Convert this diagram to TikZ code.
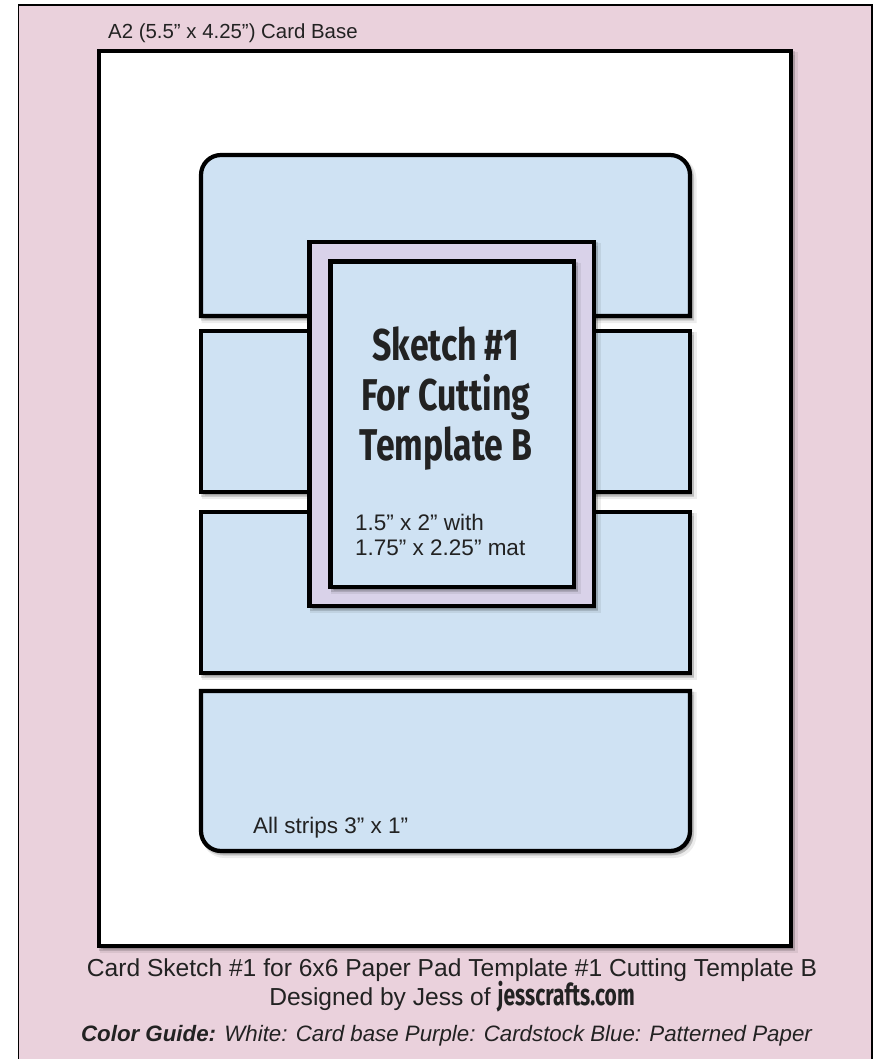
\documentclass[tikz,border=0pt]{standalone}
\usepackage{fontspec}
\setmainfont{Liberation Sans}
\newfontfamily\condfont[FakeStretch=0.76]{Fira Sans}
\newfontfamily\jessfont[FakeStretch=0.70]{Fira Sans}
\definecolor{pinkbg}{HTML}{EAD1DC}
\definecolor{bluep}{HTML}{CFE2F3}
\definecolor{purplec}{HTML}{D9D2E9}
\definecolor{txt}{HTML}{222222}
\tikzset{
  shd/.style={
    preaction={draw=black, fill=black, line width=6pt, opacity=0.07,
      transform canvas={shift={(3.5pt,-4pt)}}},
    preaction={draw=black, fill=black, line width=4pt, opacity=0.14,
      transform canvas={shift={(2pt,-2.5pt)}}}},
  piece/.style={draw=black, line width=4.2pt, shd},
  strip/.style={piece, fill=bluep},
  lbl/.style={inner sep=0pt, text=txt},
  titlefont/.style={font=\condfont\bfseries\fontsize{44.5}{50}\selectfont},
}
\begin{document}
\begin{tikzpicture}[x=1pt,y=-1pt]
\useasboundingbox (0,0) rectangle (875,1059);
\clip (0,0) rectangle (875,1059);
\fill[white] (0,0) rectangle (875,1059);
% pink background frame
\draw[fill=pinkbg, line width=1.3pt] (18.5,5) rectangle (872,1075);
% card base
\draw[piece, fill=white] (99,51) rectangle (791,946);
% strips
\draw[strip] (201,316) -- (201,175) arc[start angle=180, end angle=90, radius=20pt]
  -- (670,155) arc[start angle=90, end angle=0, radius=20pt] -- (690,316) -- cycle;
\draw[strip] (201,331) rectangle (690,492);
\draw[strip] (201,512) rectangle (690,673);
\draw[strip] (201,691) -- (201,831) arc[start angle=180, end angle=270, radius=20pt]
  -- (670,851) arc[start angle=270, end angle=360, radius=20pt] -- (690,691) -- cycle;
% mat and panel
\draw[piece, fill=purplec] (309.5,242) rectangle (594,606);
\draw[piece, fill=bluep] (330.5,261.5) rectangle (574,587);
% texts
\node[lbl, anchor=base west, font=\fontsize{20.4}{24}\selectfont] (cardbase) at (108,39) {A2 (5.5” x 4.25”) Card Base};
\node[lbl, anchor=base, titlefont] (title1) at (446,360) {Sketch \#1};
\node[lbl, anchor=base, titlefont] (title2) at (446,410) {For Cutting};
\node[lbl, anchor=base, titlefont] (title3) at (446,460) {Template B};
\node[lbl, anchor=base west, font=\fontsize{22.5}{26}\selectfont] (size1) at (355,530) {1.5” x 2” with};
\node[lbl, anchor=base west, font=\fontsize{22.5}{26}\selectfont] (size2) at (355,555) {1.75” x 2.25” mat};
\node[lbl, anchor=base west, font=\fontsize{22.5}{26}\selectfont] (strips) at (253,833) {All strips 3” x 1”};
\node[lbl, anchor=base, font=\fontsize{24.6}{28}\selectfont] (line1) at (452,976) {Card Sketch \#1 for 6x6 Paper Pad Template \#1 Cutting Template B};
\node[lbl, anchor=base, font=\fontsize{24.6}{28}\selectfont] (line2) at (452,1005) {Designed by Jess of {\jessfont\bfseries\fontsize{30}{32}\selectfont jesscrafts.com}};
\node[lbl, anchor=base, font=\itshape\fontsize{22.3}{26}\selectfont] (line3) at (446.5,1041) {{\bfseries Color Guide:} White: Card base Purple: Cardstock Blue: Patterned Paper};
\end{tikzpicture}
\end{document}
